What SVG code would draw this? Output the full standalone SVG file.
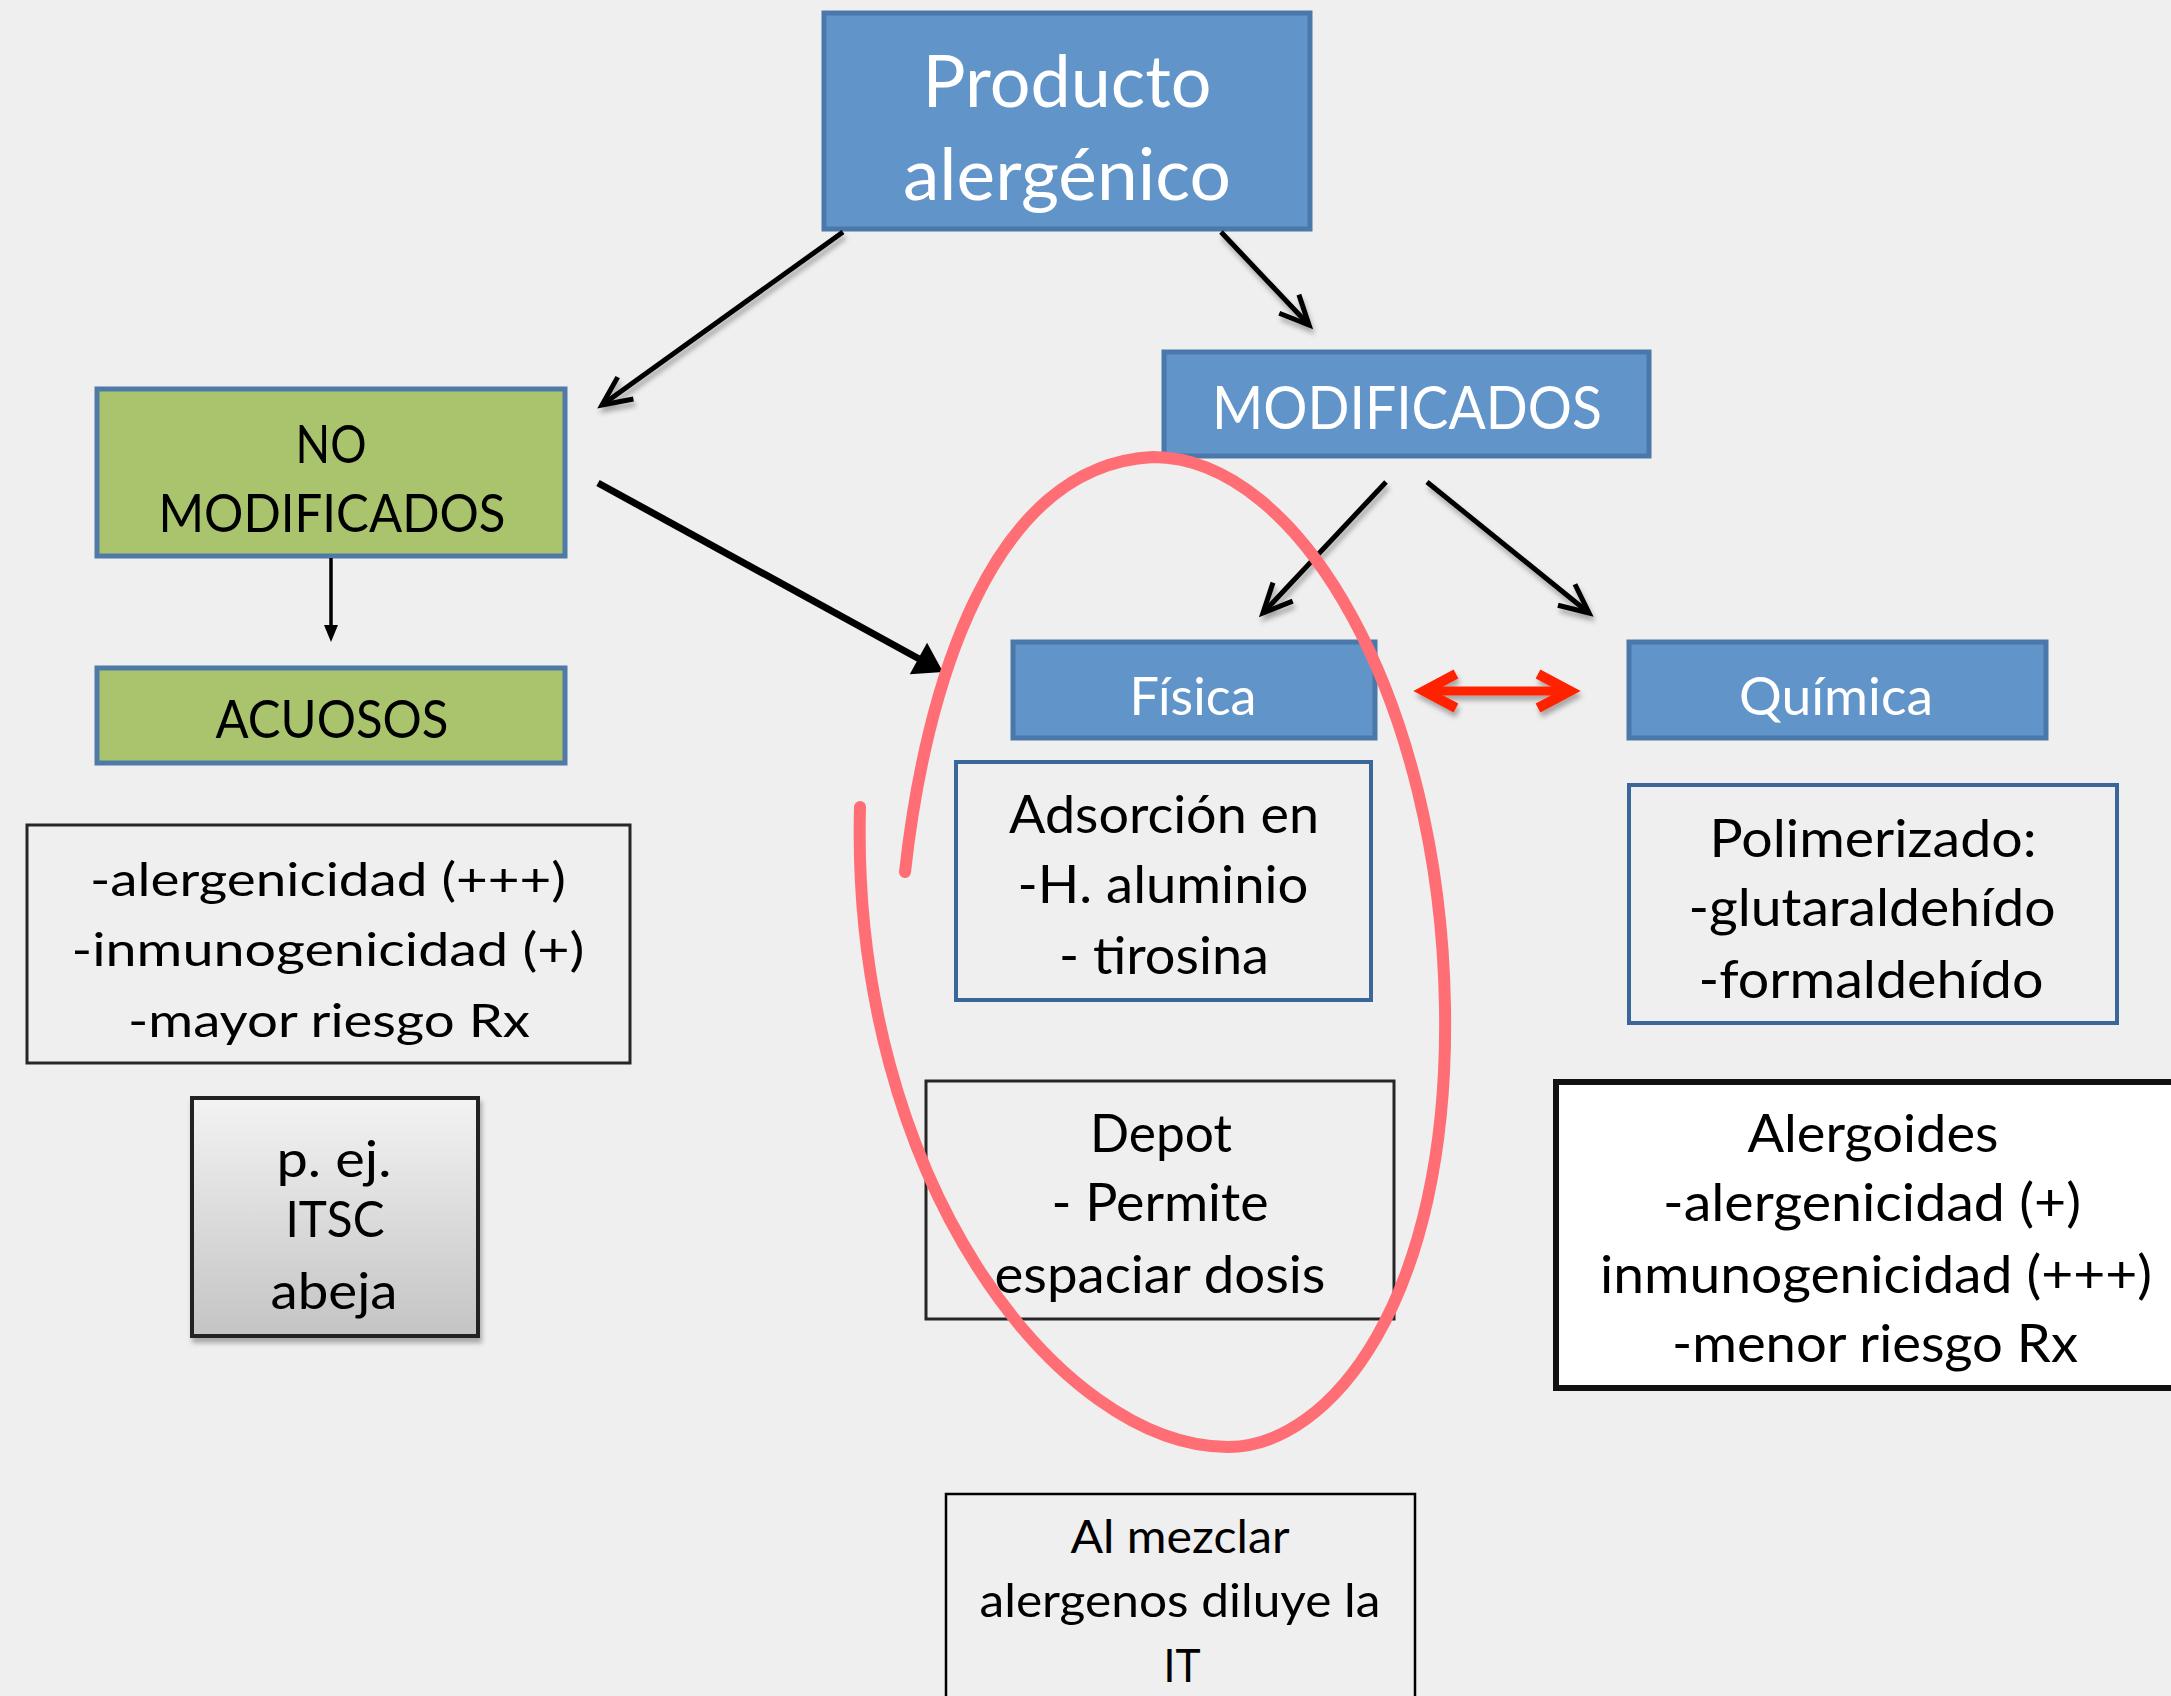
<svg xmlns="http://www.w3.org/2000/svg" width="2171" height="1696" viewBox="0 0 2171 1696">
<defs>
<style>
text { font-family: Lato, "Open Sans", "Liberation Sans", sans-serif; text-anchor: middle; }
.w { fill: #ffffff; }
.k { fill: #000000; }
.blue { fill: #6194c8; stroke: #4b78aa; stroke-width: 5; }
.green { fill: #a9c46c; stroke: #4f7aa8; stroke-width: 5; }
.bluebox { fill: #efefef; stroke: #3a6699; stroke-width: 4; }
.darkbox { fill: #efefef; stroke: #262626; stroke-width: 3; }
.conn { stroke: #000000; fill: none; }
</style>
<linearGradient id="grayg" x1="0" y1="0" x2="0" y2="1">
<stop offset="0" stop-color="#f3f3f3"/>
<stop offset="1" stop-color="#c4c4c4"/>
</linearGradient>
<filter id="sh" x="-20%" y="-20%" width="140%" height="160%">
<feDropShadow dx="2" dy="5" stdDeviation="2.5" flood-color="#000" flood-opacity="0.3"/>
</filter>
<marker id="open" markerUnits="userSpaceOnUse" markerWidth="60" markerHeight="60" refX="0" refY="0" orient="auto" style="overflow:visible">
<path d="M-29,-13.5 L0,0 L-29,13.5" fill="none" stroke="#000" stroke-width="5"/>
</marker>
<marker id="filled" markerUnits="userSpaceOnUse" markerWidth="60" markerHeight="60" refX="0" refY="0" orient="auto" style="overflow:visible">
<path d="M-14,-18 L14,0 L-14,18 Z" fill="#000"/>
</marker>
<marker id="small" markerUnits="userSpaceOnUse" markerWidth="30" markerHeight="30" refX="0" refY="0" orient="auto" style="overflow:visible">
<path d="M-5,-7 L12,0 L-5,7 Z" fill="#000"/>
</marker>
<marker id="red" markerUnits="userSpaceOnUse" markerWidth="80" markerHeight="80" refX="0" refY="0" orient="auto-start-reverse" style="overflow:visible">
<path d="M-32,-17 L0,0 L-32,17" fill="none" stroke="#ff2200" stroke-width="10"/>
</marker>
</defs>
<rect x="0" y="0" width="2171" height="1696" fill="#efefef"/>

<g id="producto">
<rect class="blue" x="824" y="13" width="486" height="216"/>
<text class="w" x="1067" y="107" font-size="71" textLength="289" lengthAdjust="spacingAndGlyphs">Producto</text>
<text class="w" x="1067" y="200" font-size="71" textLength="328" lengthAdjust="spacingAndGlyphs">alergénico</text>
</g>

<g id="no-modificados">
<rect class="green" x="97" y="389" width="468" height="167"/>
<text class="k" x="331" y="463" font-size="53" textLength="71" lengthAdjust="spacingAndGlyphs">NO</text>
<text class="k" x="332" y="532" font-size="53" textLength="347" lengthAdjust="spacingAndGlyphs">MODIFICADOS</text>
</g>

<g id="acuosos">
<rect class="green" x="97" y="668" width="468" height="95"/>
<text class="k" x="332" y="738" font-size="53" textLength="233" lengthAdjust="spacingAndGlyphs">ACUOSOS</text>
</g>

<g id="modificados">
<rect class="blue" x="1164" y="352" width="485" height="104"/>
<text class="w" x="1407" y="429" font-size="60" textLength="390" lengthAdjust="spacingAndGlyphs">MODIFICADOS</text>
</g>

<g id="fisica">
<rect class="blue" x="1013" y="642" width="362" height="96"/>
<text class="w" x="1193" y="715" font-size="53" textLength="127" lengthAdjust="spacingAndGlyphs">Física</text>
</g>

<g id="quimica">
<rect class="blue" x="1629" y="642" width="417" height="96"/>
<text class="w" x="1836" y="715" font-size="53" textLength="194" lengthAdjust="spacingAndGlyphs">Química</text>
</g>

<g id="propiedades-no-mod">
<rect class="darkbox" x="27" y="825" width="603" height="238"/>
<text class="k" x="328" y="896" font-size="47" textLength="476" lengthAdjust="spacingAndGlyphs">-alergenicidad (+++)</text>
<text class="k" x="328" y="966" font-size="47" textLength="513" lengthAdjust="spacingAndGlyphs">-inmunogenicidad (+)</text>
<text class="k" x="329" y="1037" font-size="47" textLength="402" lengthAdjust="spacingAndGlyphs">-mayor riesgo Rx</text>
</g>

<g id="ejemplo">
<rect x="192" y="1098" width="286" height="238" fill="url(#grayg)" stroke="#222" stroke-width="4" filter="url(#sh)"/>
<text class="k" x="334" y="1177" font-size="51" textLength="115" lengthAdjust="spacingAndGlyphs">p. ej.</text>
<text class="k" x="335" y="1237" font-size="51" textLength="99" lengthAdjust="spacingAndGlyphs">ITSC</text>
<text class="k" x="334" y="1309" font-size="51" textLength="127" lengthAdjust="spacingAndGlyphs">abeja</text>
</g>

<g id="adsorcion">
<rect class="bluebox" x="956" y="762" width="415" height="238"/>
<text class="k" x="1164" y="833" font-size="52" textLength="310" lengthAdjust="spacingAndGlyphs">Adsorción en</text>
<text class="k" x="1163" y="903" font-size="52" textLength="291" lengthAdjust="spacingAndGlyphs">-H. aluminio</text>
<text class="k" x="1164" y="974" font-size="52" textLength="210" lengthAdjust="spacingAndGlyphs">- tirosina</text>
</g>

<g id="depot">
<rect class="darkbox" x="926" y="1081" width="468" height="238"/>
<text class="k" x="1161" y="1152" font-size="52" textLength="142" lengthAdjust="spacingAndGlyphs">Depot</text>
<text class="k" x="1160" y="1221" font-size="52" textLength="217" lengthAdjust="spacingAndGlyphs">- Permite</text>
<text class="k" x="1160" y="1293" font-size="52" textLength="331" lengthAdjust="spacingAndGlyphs">espaciar dosis</text>
</g>

<g id="polimerizado">
<rect class="bluebox" x="1629" y="785" width="488" height="238"/>
<text class="k" x="1873" y="857" font-size="52" textLength="327" lengthAdjust="spacingAndGlyphs">Polimerizado:</text>
<text class="k" x="1872" y="926" font-size="52" textLength="367" lengthAdjust="spacingAndGlyphs">-glutaraldehído</text>
<text class="k" x="1871" y="998" font-size="52" textLength="345" lengthAdjust="spacingAndGlyphs">-formaldehído</text>
</g>

<g id="alergoides">
<rect x="1556" y="1082" width="640" height="306" fill="#ffffff" stroke="#111" stroke-width="6"/>
<text class="k" x="1873" y="1152" font-size="52" textLength="251" lengthAdjust="spacingAndGlyphs">Alergoides</text>
<text class="k" x="1872" y="1221" font-size="52" textLength="418" lengthAdjust="spacingAndGlyphs">-alergenicidad (+)</text>
<text class="k" x="1876" y="1293" font-size="52" textLength="552" lengthAdjust="spacingAndGlyphs">inmunogenicidad (+++)</text>
<text class="k" x="1875" y="1362" font-size="52" textLength="406" lengthAdjust="spacingAndGlyphs">-menor riesgo Rx</text>
</g>

<g id="mezclar">
<rect x="946" y="1494" width="469" height="230" fill="#efefef" stroke="#000" stroke-width="2.5"/>
<text class="k" x="1180" y="1553" font-size="47" textLength="219" lengthAdjust="spacingAndGlyphs">Al mezclar</text>
<text class="k" x="1180" y="1617" font-size="47" textLength="401" lengthAdjust="spacingAndGlyphs">alergenos diluye la</text>
<text class="k" x="1182" y="1682" font-size="47" textLength="37" lengthAdjust="spacingAndGlyphs">IT</text>
</g>

<g id="connectors">
<g filter="url(#sh)">
<line class="conn" x1="843" y1="232" x2="602" y2="405" stroke-width="5" marker-end="url(#open)"/>
<line class="conn" x1="1221" y1="232" x2="1309" y2="325" stroke-width="5" marker-end="url(#open)"/>
<line class="conn" x1="1386" y1="482" x2="1263" y2="613" stroke-width="5" marker-end="url(#open)"/>
<line class="conn" x1="1427" y1="482" x2="1589" y2="613" stroke-width="5" marker-end="url(#open)"/>
<line x1="1424" y1="691" x2="1570" y2="691" stroke="#ff2200" stroke-width="9" fill="none" marker-start="url(#red)" marker-end="url(#red)"/>
</g>
<line class="conn" x1="331" y1="558" x2="331" y2="630" stroke-width="3.5" marker-end="url(#small)"/>
<line class="conn" x1="598" y1="483" x2="930.7" y2="665.3" stroke-width="7" marker-end="url(#filled)"/>
</g>

<g id="highlight">
<path d="M905,872 C925,690 990,465 1153,457 C1300,457 1440,700 1445,1007 C1450,1300 1330,1447 1228,1447 C1060,1447 850,1180 860,807" fill="none" stroke="#ff6e74" stroke-width="12" stroke-linecap="round"/>
</g>
</svg>
